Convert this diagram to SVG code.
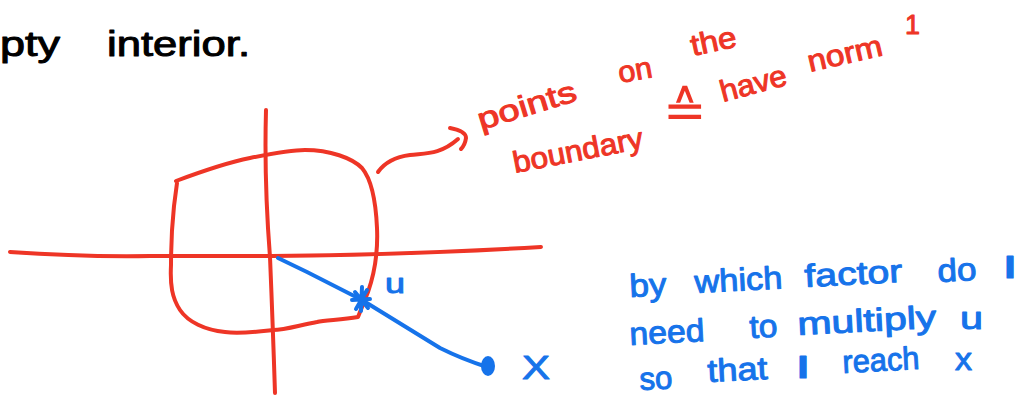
<svg xmlns="http://www.w3.org/2000/svg" width="1036" height="398" viewBox="0 0 1036 398">
<style>
.red{fill:none;stroke:#ee3526;stroke-width:4;stroke-linecap:round;stroke-linejoin:round}
.blue{fill:none;stroke:#1673ea;stroke-width:4;stroke-linecap:round;stroke-linejoin:round}
.t{font-family:"Liberation Sans",Arial,sans-serif;stroke-width:1;stroke-linejoin:round}
.tk{fill:#000;stroke:#000;font-size:35px}
.tr{fill:#ee3526;stroke:#ee3526;font-size:30px}
.tb{fill:#1673ea;stroke:#1673ea;font-size:32px}
</style>
<rect width="1036" height="398" fill="#fff"/>
<g id="heading">
<text class="t tk" x="0" y="56" textLength="60" lengthAdjust="spacingAndGlyphs">pty</text>
<text class="t tk" x="107" y="56" textLength="143" lengthAdjust="spacingAndGlyphs">interior.</text>
</g>
<g id="axes">
<path class="red" d="M10,252 Q80,257 150,256 L272,256 Q400,255 541,247"/>
<path class="red" d="M266,110 Q264,180 270,257 Q273,330 275,393"/>
</g>
<g id="unit-ball">
<path class="red" d="M176,181 C200,172 225,163 250,158 C270,154 290,150 305,150 C330,150 352,158 362,168 C372,180 376,205 377,228 C378,250 375,272 368,292 L358,317 C340,320 325,320 317,322 C300,325 285,330 273,330 C255,332 240,334 225,332 C205,330 188,322 180,310 C172,298 170,285 171,265 C171,245 172,225 174,206 L177,183"/>
</g>
<g id="connectors">
<path class="red" d="M378,172 C385,162 395,157 410,155 C425,153 440,155 458,139"/>
<path class="red" d="M450,128 Q466,131 466,138 Q465,145 461,149"/>
<path class="blue" d="M278,258 L307,272 L362,300 L440,348 Q462,359 487,367"/>
</g>
<g id="point-u">
<path class="blue" d="M355,292 L368,308 M367,290 L356,309 M352,300 L370,299 M362,287 L361,311" stroke-width="3.5"/>
<text class="t tb" x="385" y="293" style="font-size:28px" textLength="20" lengthAdjust="spacingAndGlyphs">u</text>
</g>
<g id="point-x">
<ellipse cx="488" cy="366" rx="7" ry="10" fill="#1673ea"/>
<text class="t tb" x="522" y="379" style="font-size:34px" textLength="28" lengthAdjust="spacingAndGlyphs">X</text>
</g>
<g id="boundary-note">
<text class="t tr" x="481" y="130" transform="rotate(-17 481 130)" textLength="102" lengthAdjust="spacingAndGlyphs">points</text>
<text class="t tr" x="620" y="83" transform="rotate(-10 620 83)" textLength="34" lengthAdjust="spacingAndGlyphs">on</text>
<text class="t tr" x="693" y="56" transform="rotate(-12 693 56)" textLength="46" lengthAdjust="spacingAndGlyphs">the</text>
<text class="t tr" x="515" y="173" transform="rotate(-11 515 173)" textLength="132" lengthAdjust="spacingAndGlyphs">boundary</text>
<text class="t tr" x="663" y="128" style="font-size:52px;stroke-width:0">≙</text>
<text class="t tr" x="723" y="102" transform="rotate(-15 723 102)" textLength="68" lengthAdjust="spacingAndGlyphs">have</text>
<text class="t tr" x="810" y="72" transform="rotate(-13 810 72)" textLength="76" lengthAdjust="spacingAndGlyphs">norm</text>
<text class="t tr" x="905" y="34" style="font-size:28px" textLength="15" lengthAdjust="spacingAndGlyphs">1</text>
</g>
<g id="question-note">
<text class="t tb" x="630" y="297" transform="rotate(-3 630 297)" textLength="37" lengthAdjust="spacingAndGlyphs">by</text>
<text class="t tb" x="695" y="293" transform="rotate(-3 695 293)" textLength="88" lengthAdjust="spacingAndGlyphs">which</text>
<text class="t tb" x="805" y="287" transform="rotate(-3 805 287)" textLength="98" lengthAdjust="spacingAndGlyphs">factor</text>
<text class="t tb" x="938" y="282" transform="rotate(-3 938 282)" textLength="39" lengthAdjust="spacingAndGlyphs">do</text>
<text class="t tb" x="1002" y="278" textLength="16" lengthAdjust="spacingAndGlyphs">I</text>
<text class="t tb" x="630" y="345" transform="rotate(-3 630 345)" textLength="75" lengthAdjust="spacingAndGlyphs">need</text>
<text class="t tb" x="750" y="338" transform="rotate(-3 750 338)" textLength="28" lengthAdjust="spacingAndGlyphs">to</text>
<text class="t tb" x="798" y="335" transform="rotate(-3 798 335)" textLength="139" lengthAdjust="spacingAndGlyphs">multiply</text>
<text class="t tb" x="960" y="329" textLength="23" lengthAdjust="spacingAndGlyphs">u</text>
<text class="t tb" x="640" y="390" transform="rotate(-3 640 390)" textLength="33" lengthAdjust="spacingAndGlyphs">so</text>
<text class="t tb" x="708" y="382" transform="rotate(-3 708 382)" textLength="60" lengthAdjust="spacingAndGlyphs">that</text>
<text class="t tb" x="795" y="378" textLength="16" lengthAdjust="spacingAndGlyphs">I</text>
<text class="t tb" x="843" y="373" transform="rotate(-3 843 373)" textLength="77" lengthAdjust="spacingAndGlyphs">reach</text>
<text class="t tb" x="955" y="370" textLength="17" lengthAdjust="spacingAndGlyphs">x</text>
</g>
</svg>
